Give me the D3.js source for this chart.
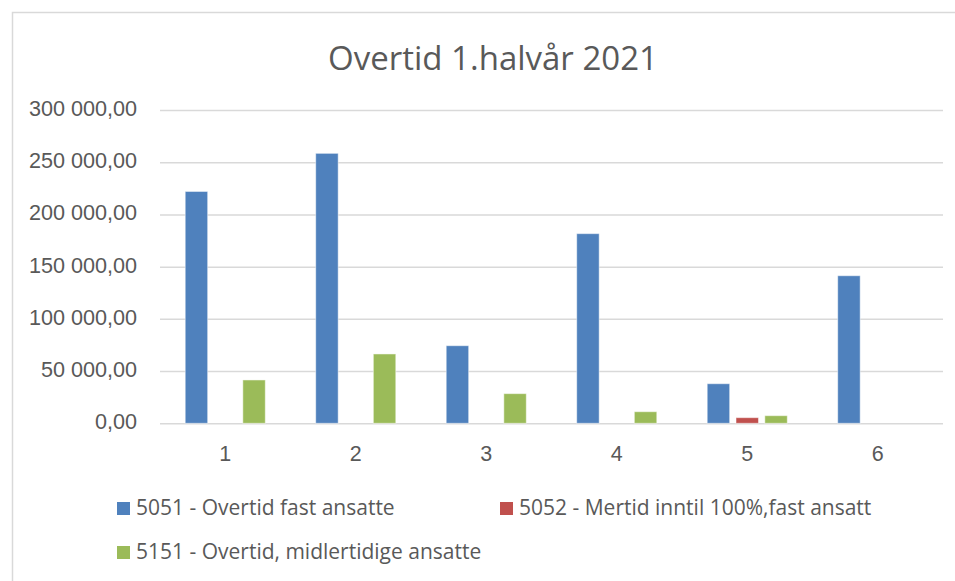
<!DOCTYPE html>
<html>
<head>
<meta charset="utf-8">
<script src="https://cdn.jsdelivr.net/npm/d3@7"></script>
<style>
    body { margin: 0; background: #fff; }
    svg { display: block; font-family: "Open Sans", sans-serif; }
    .grid line { stroke: #d9d9d9; stroke-width: 1.5; }
    .grid path { display: none; }
    .axis text { fill: #595959; }
</style>
</head>
<body>
<script>
// data
const title = "Overtid 1.halvår 2021";
const categories = ["1", "2", "3", "4", "5", "6"];
const seriesNames = [
    "5051 - Overtid fast ansatte",
    "5052 - Mertid inntil 100%,fast ansatt",
    "5151 - Overtid, midlertidige ansatte"
];
const fastAnsatte = [222000, 258500, 74300, 181600, 37900, 141300];
const mertid = [0, 0, 0, 0, 5400, 0];
const midlertidige = [41500, 66400, 28400, 11100, 7300, 0];
const yTicks = [0, 50000, 100000, 150000, 200000, 250000, 300000];
const colors = ["#4f81bd", "#c0504d", "#9bbb59"];

const allSeries = [fastAnsatte, mertid, midlertidige];

const width = 955, height = 581;
let plot = { left: 160, right: 943, top: 110, bottom: 423.3 };

let svg = d3.select("body").append("svg")
    .attr("width", width)
    .attr("height", height);

// chart frame (only left and top edges are inside the picture)
svg.append("path")
    .attr("d", "M12.5," + height + "V12.5H" + width)
    .attr("fill", "none")
    .attr("stroke", "#d9d9d9")
    .attr("stroke-width", 1.5);

svg.append("text")
    .attr("x", 493)
    .attr("y", 70)
    .attr("text-anchor", "middle")
    .attr("fill", "#595959")
    .style("font-size", "33px")
    .text(title);

let xScale = d3.scaleBand()
    .domain(categories)
    .range([plot.left, plot.right]);

let xInner = d3.scaleBand()
    .domain(d3.range(allSeries.length))
    .range([0, xScale.bandwidth()])
    .paddingInner(0.22)
    .paddingOuter(0.875);

let yScale = d3.scaleLinear()
    .domain([0, 300000])
    .range([plot.bottom, plot.top]);

// norwegian style numbers: space as thousands separator, comma decimals
const nb = d3.formatLocale({ decimal: ",", thousands: "\u00a0", grouping: [3], currency: ["", " kr"] });
const fmt = nb.format(",.2f");

// gridlines + y labels
let yAxis = svg.append("g")
    .attr("class", "grid axis")
    .attr("transform", "translate(" + plot.left + ",0)")
    .call(d3.axisLeft(yScale)
        .tickValues(yTicks)
        .tickSize(-(plot.right - plot.left))
        .tickPadding(23)
        .tickFormat(fmt));
yAxis.selectAll("text")
    .attr("dy", "0.25em")
    .style("font-size", "21.6px");

// x labels
let xAxis = svg.append("g")
    .attr("class", "axis")
    .attr("transform", "translate(0," + plot.bottom + ")")
    .call(d3.axisBottom(xScale).tickSize(0).tickPadding(22));
xAxis.select(".domain").remove();
xAxis.selectAll("text")
    .attr("dy", "0.71em")
    .style("font-size", "21.5px");

// bars
let groups = svg.append("g")
    .selectAll("g")
    .data(categories)
    .join("g")
    .attr("transform", d => "translate(" + xScale(d) + ",0)");

groups.selectAll("rect")
    .data((d, i) => allSeries.map((s, k) => ({ k: k, value: s[i] })))
    .join("rect")
    .attr("x", d => xInner(d.k))
    .attr("y", d => yScale(d.value))
    .attr("width", xInner.bandwidth())
    .attr("height", d => plot.bottom - yScale(d.value))
    .attr("fill", d => colors[d.k])
    .attr("stroke", "rgba(255,255,255,0.5)")
    .attr("stroke-width", 1);

// legend
const legendPos = [[117, 502], [500, 502], [117, 546]];
let legend = svg.append("g")
    .selectAll("g")
    .data(seriesNames)
    .join("g")
    .attr("transform", (d, i) => "translate(" + legendPos[i][0] + "," + legendPos[i][1] + ")");

legend.append("rect")
    .attr("width", 13)
    .attr("height", 13)
    .attr("fill", (d, i) => colors[i]);

legend.append("text")
    .attr("x", 19)
    .attr("y", 13)
    .attr("fill", "#595959")
    .style("font-size", "21px")
    .text(d => d);
</script>
</body>
</html>
